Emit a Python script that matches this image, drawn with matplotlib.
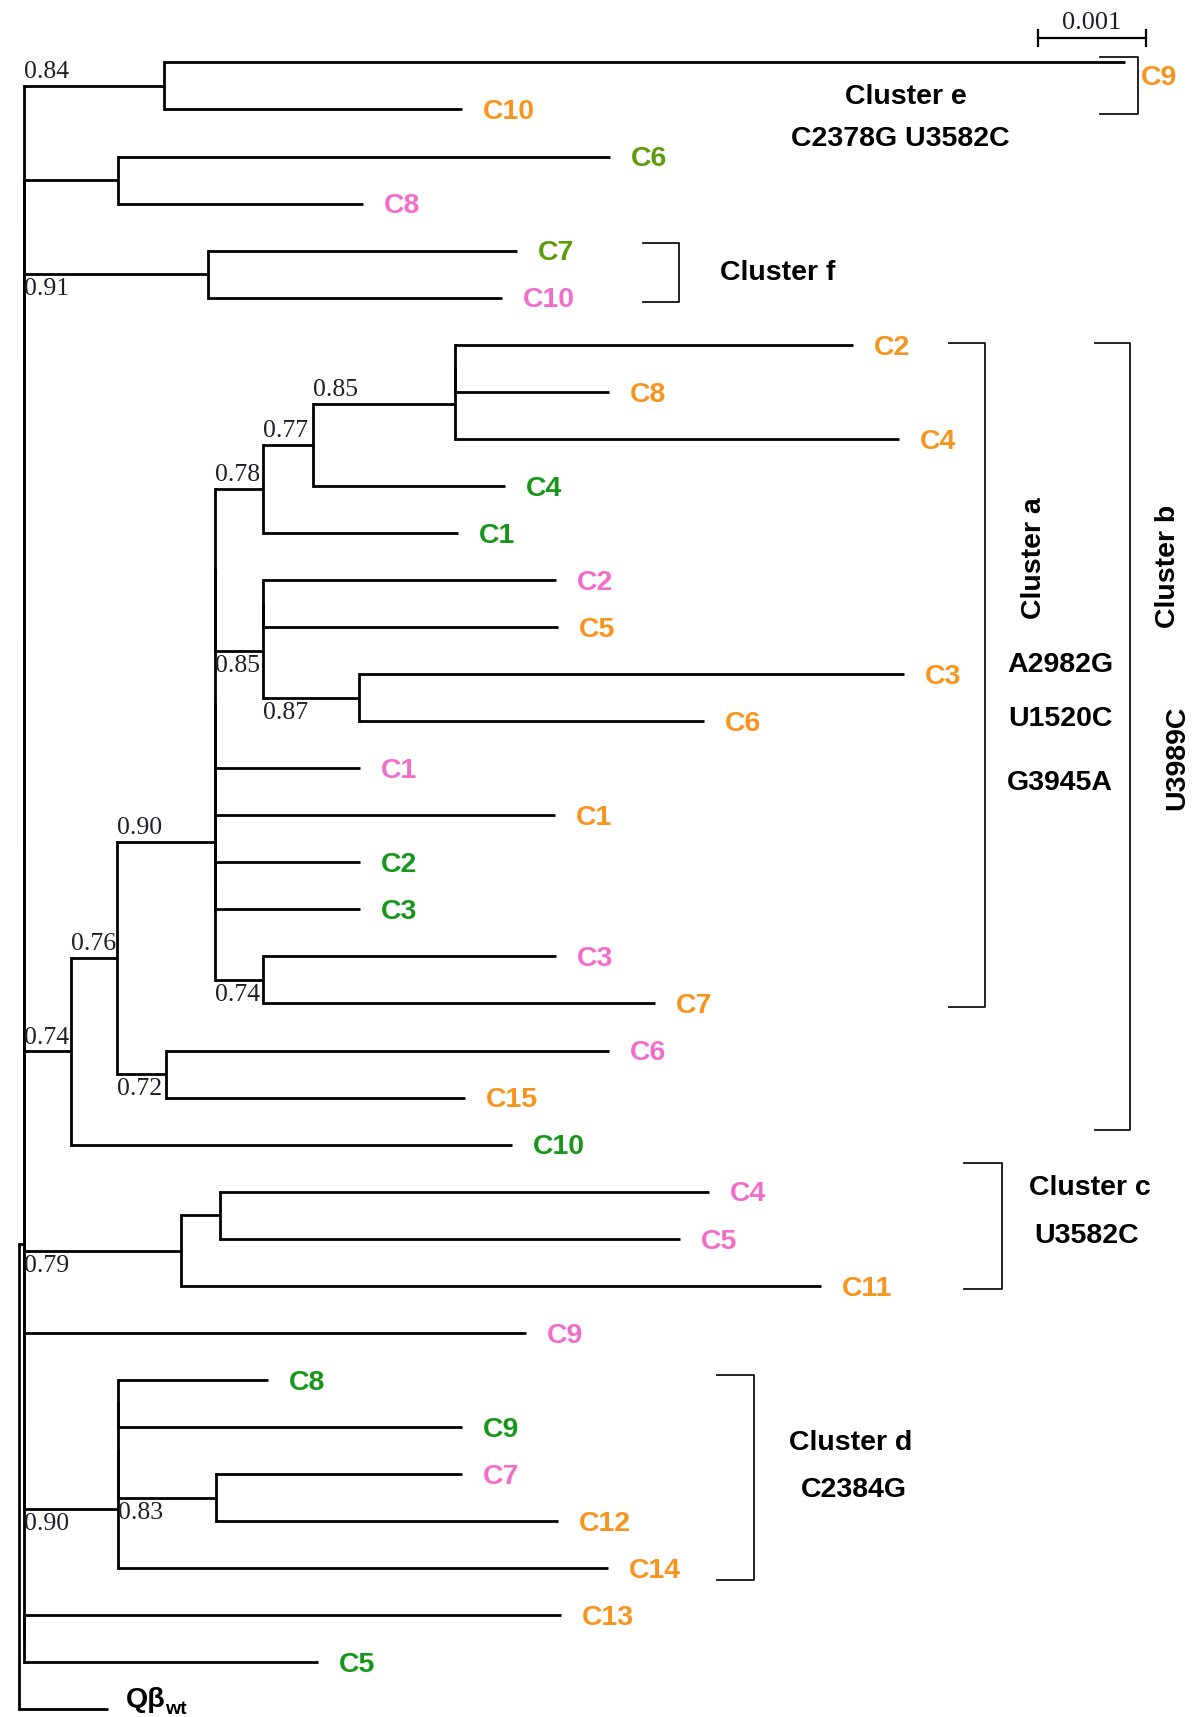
import matplotlib.pyplot as plt

# ML tree of the evolved lineages vs. wild type (branch lengths in subs/site).
# polytomies are written as zero-length binary splits, like MEGA draws them.
# leaf name = "label|colour group", internal name = support value
newick = ("(((((C9|o:0.00887,C10|o:0.00275)0.84:0.00129,"
          "(((C6|l:0.00454,C8|p:0.00226):0.00087,(C7|l:0.00285,C10|p:0.00271)0.91:0.00170):0,"
          "(((((((((C2|o:0.00367,C8|o:0.00142):0,C4|o:0.00409)0.85:0.00131,C4|g:0.00177)0.77:0.00047,"
          "C1|g:0.00180)0.78:0.00044,"
          "((C2|p:0.00271,C5|o:0.00273):0,(C3|o:0.00503,C6|o:0.00318)0.87:0.00089)0.85:0.00044):0,"
          "((C1|p:0.00134,C1|o:0.00314):0,(C2|g:0.00134,C3|g:0.00134):0):0):0,"
          "(C3|p:0.00271,C7|o:0.00362)0.74:0.00044)0.90:0.00090,"
          "(C6|p:0.00409,C15|o:0.00276)0.72:0.00045)0.76:0.00043,"
          "C10|g:0.00407)0.74:0.00043):0):0,"
          "(((C4|p:0.00451,C5|p:0.00424):0.00036,C11|o:0.00590)0.79:0.00145,"
          "(C9|p:0.00463,(((C8|g:0.00138,C9|g:0.00317):0,(C7|p:0.00227,C12|o:0.00316)0.83:0.00090):0,"
          "C14|o:0.00452)0.90:0.00087):0):0):0,"
          "(C13|o:0.00495,C5|g:0.00271):0):0.00005,"
          "Qb|k:0.00082);")

# where the support value sits, in preorder: above or below its branch
support_side = ['above', 'below', 'above', 'above', 'above', 'above', 'above', 'above',
                'below', 'below', 'below', 'below', 'below', 'below', 'below']

group_colors = {'o': '#F7941D', 'p': '#F26DC9', 'g': '#17961A', 'l': '#5E9B0A', 'k': 'black'}

# clusters: bracket (x left, x right, y top, y bottom) in tree units
brackets = [(0.00998, 0.01033, -0.12, 1.09),
            (0.00576, 0.00609, 3.84, 5.10),
            (0.00858, 0.00892, 5.96, 20.08),
            (0.00993, 0.01025, 5.96, 22.69),
            (0.00872, 0.00907, 23.39, 26.06),
            (0.00644, 0.00678, 27.90, 32.26)]
cluster_text = [("Cluster e", 0.00819, 0.74, 0),
                ("C2378G U3582C", 0.00813, 1.63, 0),
                ("Cluster f", 0.00700, 4.47, 0),
                ("Cluster a", 0.00937, 10.54, 90),
                ("A2982G", 0.00961, 12.80, 0),
                ("U1520C", 0.00961, 13.96, 0),
                ("G3945A", 0.00961, 15.31, 0),
                ("Cluster b", 0.01060, 10.70, 90),
                ("U3989C", 0.01069, 14.78, 90),
                ("Cluster c", 0.00988, 23.92, 0),
                ("U3582C", 0.00985, 24.95, 0),
                ("Cluster d", 0.00768, 29.35, 0),
                ("C2384G", 0.00771, 30.35, 0)]

scale_x0 = 0.0094
scale_len = 0.001


def parse(s, i=0):
    node = {'children': [], 'name': '', 'length': 0.0}
    if s[i] == '(':
        i += 1
        while True:
            child, i = parse(s, i)
            node['children'].append(child)
            i += 1
            if s[i - 1] == ')':
                break
    j = i
    while s[i] not in ':,);':
        i += 1
    node['name'] = s[j:i]
    if s[i] == ':':
        i += 1
        j = i
        while s[i] not in ',);':
            i += 1
        node['length'] = float(s[j:i])
    return node, i


leaves = []


def layout(node, x0):
    node['x'] = x0 + node['length']
    if node['children']:
        for c in node['children']:
            layout(c, node['x'])
        node['y'] = (node['children'][0]['y'] + node['children'][-1]['y']) / 2
    else:
        node['y'] = len(leaves)
        leaves.append(node)


tree, _ = parse(newick)
layout(tree, 0.0)

fig = plt.figure(figsize=(12, 17.17), dpi=100)
ax = fig.add_axes([0, 0, 1, 1])
ax.set_xlim(-0.000172, 0.010899)
ax.set_ylim(35.164, -1.3265)
ax.axis('off')

sans = 'Liberation Sans'
serif = 'Liberation Serif'
lw = 2.0
supports = []


def draw(node, px):
    ax.plot([px, node['x']], [node['y'], node['y']], color='black', lw=lw, solid_capstyle='butt')
    ch = node['children']
    if ch:
        ax.plot([node['x'], node['x']], [ch[0]['y'], ch[-1]['y']], color='black', lw=lw,
                solid_capstyle='projecting')
        if node['name']:
            supports.append((node['name'], px, node['y']))
        for c in ch:
            draw(c, node['x'])


draw(tree, tree['x'])

# support values
for (val, px, y), side in zip(supports, support_side):
    if side == 'above':
        ax.annotate(val, (px, y), xytext=(0, 2), textcoords='offset points',
                    ha='left', va='bottom', fontsize=18.5, family=serif, color='#1e1e2a')
    else:
        ax.annotate(val, (px, y), xytext=(0, -3), textcoords='offset points',
                    ha='left', va='top', fontsize=18.5, family=serif, color='#1e1e2a')

# tip labels
for leaf in leaves:
    label, grp = leaf['name'].split('|')
    col = group_colors[grp]
    if grp == 'k':
        t = ax.annotate('Qβ', (leaf['x'], leaf['y']), xytext=(13, 7), textcoords='offset points',
                        ha='left', va='center', fontsize=20.5, family=sans, weight='bold', color=col)
        ax.annotate('wt', xy=(1, 0), xycoords=t, xytext=(0, -4), textcoords='offset points',
                    ha='left', va='bottom', fontsize=14, family=sans, weight='bold', color=col)
        continue
    off = (15, -2)
    if label == 'C9' and grp == 'o':
        off = (11, -11)
    ax.annotate(label, (leaf['x'], leaf['y']), xytext=off, textcoords='offset points',
                ha='left', va='center', fontsize=20.5, family=sans, weight='bold', color=col)

# cluster brackets and captions
for x0, x1, y0, y1 in brackets:
    ax.plot([x0, x1, x1, x0], [y0, y0, y1, y1], color='#111111', lw=1.3)
for txt, x, y, rot in cluster_text:
    ax.text(x, y, txt, ha='center', va='center', rotation=rot, fontsize=20.5,
            family=sans, weight='bold', color='black')

# scale bar
ax.plot([scale_x0, scale_x0 + scale_len], [-0.512, -0.512], color='black', lw=1.6)
for sx in (scale_x0, scale_x0 + scale_len):
    ax.plot([sx, sx], [-0.68, -0.34], color='black', lw=1.6)
ax.text(scale_x0 + scale_len / 2, -0.6, '0.001', ha='center', va='bottom', fontsize=19,
        family=serif, color='#1e1e2a')

fig.savefig('out.png', dpi=100)
